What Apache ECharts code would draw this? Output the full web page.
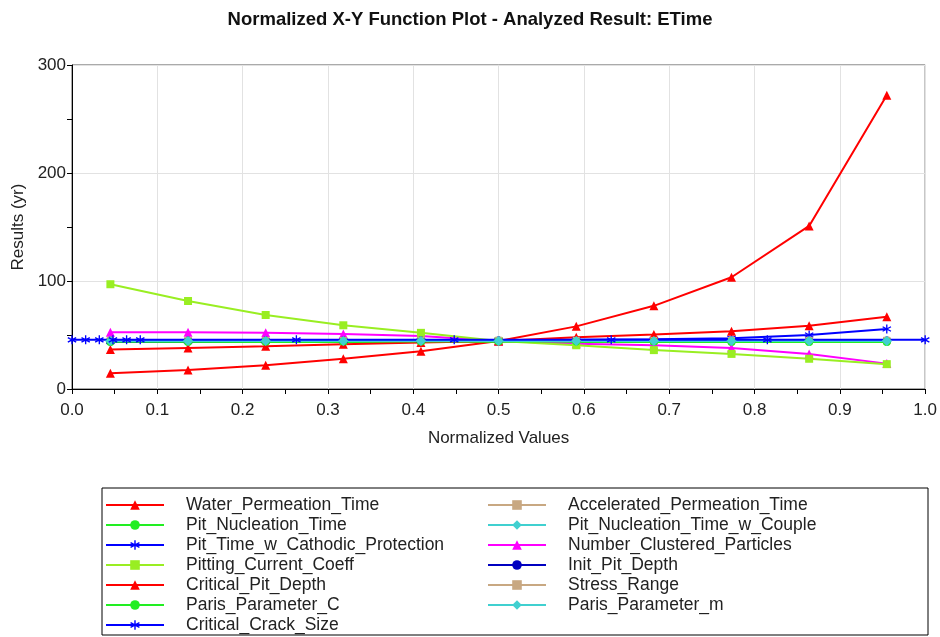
<!DOCTYPE html>
<html>
  <head>
    <meta charset="UTF-8" />
    <title>ETime</title>
    <style>
      html,
      body {
        margin: 0;
        padding: 0;
        background: #fff;
      }
      #main {
        width: 940px;
        height: 637px;
      }
    </style>
  </head>
  <body>
    <div id="main"></div>
  </body>
  <script src="https://cdn.jsdelivr.net/npm/echarts@6/dist/echarts.min.js"></script>
  <script>
    // x positions shared by most series
    var xs = [0.045, 0.136, 0.227, 0.318, 0.409, 0.5, 0.591, 0.682, 0.773, 0.864, 0.955];
    // critical crack size has its own x points
    var crackXs = [0, 0.016, 0.032, 0.048, 0.064, 0.08, 0.263, 0.448, 0.632, 0.815, 1.0];

    var waterPermeation = [14.5, 17.5, 22, 28, 35, 44.5, 58, 77, 103.5, 151, 272];
    var acceleratedPermeation = [45, 45, 45, 45, 45, 45, 45, 45, 45, 45, 45];
    var pitNucleation = [43.5, 43.5, 43.5, 43.5, 43.5, 44, 43.5, 43.5, 43.5, 43.5, 43.5];
    var pitNucleationCouple = [44.5, 44.5, 44.5, 44.5, 44.5, 44.5, 44.5, 44.5, 44.5, 44.5, 44.5];
    var pitTimeCathodic = [44, 44.2, 44.5, 44.8, 45, 45, 45.5, 46, 47, 50, 55.5];
    var numberClustered = [52.5, 52.5, 52, 51, 49, 44.5, 42, 40.5, 38, 32.5, 23.5];
    var pittingCurrent = [97, 81.5, 68.5, 59, 52, 44.5, 40.5, 36, 32.5, 28, 23];
    var initPitDepth = [45, 45, 45, 45, 45, 45, 45, 45, 45, 45, 45];
    var criticalPitDepth = [36.5, 38, 39.5, 41.5, 43, 44.5, 48, 50.5, 53.5, 58.5, 67];
    var stressRange = [45, 45, 45, 45, 45, 45, 45, 45, 45, 45, 45];
    var parisC = [44, 44, 44, 44, 44, 44, 44, 44, 44, 44, 44];
    var parisM = [44.5, 44.5, 44.5, 44.5, 44.5, 44.5, 44.5, 44.5, 44.5, 44.5, 44.5];
    var criticalCrack = [45.5, 45.5, 45.5, 45.5, 45.5, 45.5, 45.5, 45.5, 45.5, 45.5, 45.5];

    var xTicks = [0, 0.1, 0.2, 0.3, 0.4, 0.5, 0.6, 0.7, 0.8, 0.9, 1.0];
    var yTicks = [0, 100, 200, 300];

    var legendLeft = [
      "Water_Permeation_Time",
      "Pit_Nucleation_Time",
      "Pit_Time_w_Cathodic_Protection",
      "Pitting_Current_Coeff",
      "Critical_Pit_Depth",
      "Paris_Parameter_C",
      "Critical_Crack_Size",
    ];
    var legendRight = [
      "Accelerated_Permeation_Time",
      "Pit_Nucleation_Time_w_Couple",
      "Number_Clustered_Particles",
      "Init_Pit_Depth",
      "Stress_Range",
      "Paris_Parameter_m",
    ];

    var star =
      "path://M-0.7,-5L0.7,-5L0.7,5L-0.7,5Z M-4.7,-1.9L-4,-3.1L4.7,1.9L4,3.1Z M-4,3.1L-4.7,1.9L4,-3.1L4.7,-1.9Z";
    var font = "Liberation Sans, Arial";

    function pairs(x, y) {
      var out = [];
      for (var i = 0; i < y.length; i++) {
        out.push([x[i], y[i]]);
      }
      return out;
    }

    function line(name, x, y, color, symbol, size) {
      return {
        name: name,
        type: "line",
        data: pairs(x, y),
        symbol: symbol,
        symbolSize: size,
        showAllSymbol: true,
        lineStyle: { color: color, width: 2 },
        itemStyle: { color: color },
        emphasis: { disabled: true },
        animation: false,
      };
    }

    var myChart = echarts.init(document.getElementById("main"));
    var legendBase = {
      orient: "vertical",
      top: 496,
      height: 141,
      padding: 0,
      itemWidth: 58,
      itemHeight: 12,
      itemGap: 2,
      textStyle: {
        fontFamily: font,
        fontSize: 17.5,
        lineHeight: 17.5,
        color: "#222",
        padding: [0, 0, 0, 17],
      },
    };
    var option = {
      backgroundColor: "#fff",
      title: {
        text: "Normalized X-Y Function Plot - Analyzed Result: ETime",
        left: "center",
        top: 5,
        textStyle: {
          fontFamily: font,
          fontSize: 18.5,
          fontWeight: "bold",
          color: "#111",
        },
      },
      legend: [
        Object.assign({}, legendBase, { left: 105, data: legendLeft }),
        Object.assign({}, legendBase, { left: 487, data: legendRight }),
      ],
      graphic: [
        {
          type: "rect",
          shape: { x: 102, y: 488, width: 826, height: 147 },
          style: { fill: "none", stroke: "#000", lineWidth: 1 },
          z: 10,
        },
      ],
      grid: {
        left: 72,
        right: 14,
        top: 65,
        bottom: 248,
        show: true,
        borderColor: "#555",
        borderWidth: 1,
      },
      xAxis: {
        type: "value",
        min: 0,
        max: 1,
        interval: 0.1,
        name: "Normalized Values",
        nameLocation: "middle",
        nameGap: 41,
        nameTextStyle: { fontFamily: font, fontSize: 17, color: "#222" },
        axisLine: { show: true, onZero: false, lineStyle: { color: "#000", width: 1 } },
        axisTick: { show: true, length: 5, lineStyle: { color: "#000" } },
        minorTick: { show: true, splitNumber: 2, length: 5, lineStyle: { color: "#000" } },
        axisLabel: {
          margin: 13,
          fontFamily: font,
          fontSize: 17,
          color: "#222",
          formatter: function (v) {
            return xTicks.indexOf(Math.round(v * 10) / 10) >= 0 ? v.toFixed(1) : "";
          },
        },
        splitLine: { show: true, lineStyle: { color: "#e2e2e2", width: 1 } },
      },
      yAxis: {
        type: "value",
        min: 0,
        max: 300,
        interval: 100,
        name: "Results (yr)",
        nameLocation: "middle",
        nameGap: 44,
        nameTextStyle: { fontFamily: font, fontSize: 17, color: "#222" },
        axisLine: { show: true, lineStyle: { color: "#000", width: 1 } },
        axisTick: { show: true, length: 5, lineStyle: { color: "#000" } },
        minorTick: { show: true, splitNumber: 2, length: 5, lineStyle: { color: "#000" } },
        axisLabel: {
          margin: 6,
          fontFamily: font,
          fontSize: 17,
          color: "#222",
          formatter: function (v) {
            return yTicks.indexOf(v) >= 0 ? String(v) : "";
          },
        },
        splitLine: { show: true, lineStyle: { color: "#e2e2e2", width: 1 } },
      },
      series: [
        line("Water_Permeation_Time", xs, waterPermeation, "#ff0000", "triangle", 9),
        line("Accelerated_Permeation_Time", xs, acceleratedPermeation, "#c8a882", "rect", 7),
        line("Pit_Nucleation_Time", xs, pitNucleation, "#22ee22", "circle", 8),
        line("Pit_Nucleation_Time_w_Couple", xs, pitNucleationCouple, "#40d0d0", "diamond", 10),
        line("Pit_Time_w_Cathodic_Protection", xs, pitTimeCathodic, "#0000ff", star, 9),
        line("Number_Clustered_Particles", xs, numberClustered, "#ff00ff", "triangle", 9),
        line("Pitting_Current_Coeff", xs, pittingCurrent, "#99ee22", "rect", 8),
        line("Init_Pit_Depth", xs, initPitDepth, "#0000c0", "circle", 8),
        line("Critical_Pit_Depth", xs, criticalPitDepth, "#ff0000", "triangle", 9),
        line("Stress_Range", xs, stressRange, "#c8a882", "rect", 7),
        line("Paris_Parameter_C", xs, parisC, "#22ee22", "circle", 8),
        line("Paris_Parameter_m", xs, parisM, "#40d0d0", "diamond", 10),
        line("Critical_Crack_Size", crackXs, criticalCrack, "#0000ff", star, 9),
      ],
    };
    myChart.setOption(option);
  </script>
</html>
